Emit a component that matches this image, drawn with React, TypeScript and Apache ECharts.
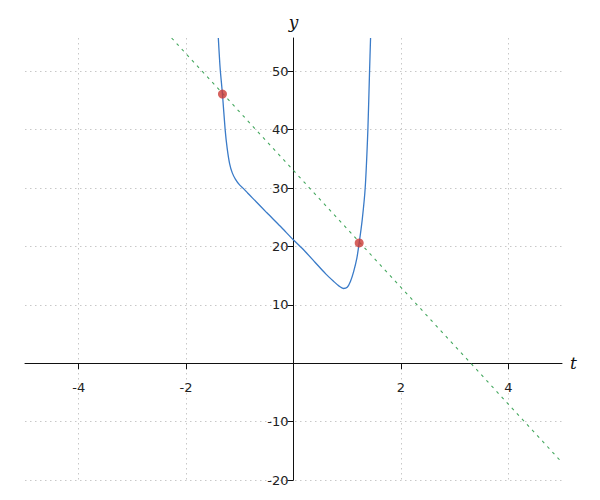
import React, { useEffect, useRef } from "react";
import * as echarts from "echarts";

// Curve samples (t, y)
const curveT = [-1.40, -1.366, -1.323, -1.273, -1.235, -1.19, -1.14, -1.08, -1.0, -0.93, -0.85, -0.7, -0.5, -0.25, 0, 0.2, 0.4, 0.6, 0.75, 0.85, 0.93, 1.0, 1.06, 1.12, 1.18, 1.223, 1.28, 1.335, 1.385, 1.416, 1.435];
const curveY = [55.7, 50.5, 46.1, 40.0, 36.8, 34.2, 32.6, 31.5, 30.5, 29.9, 29.1, 27.7, 25.8, 23.5, 21.1, 19.3, 17.3, 15.3, 14.0, 13.2, 12.8, 13.0, 14.0, 15.7, 18.0, 20.6, 24.6, 30.0, 40.0, 49.9, 55.7];

// Dashed line endpoints
const lineT = [-2.27, 5];
const lineY = [55.7, -17];

// Marked points
const pointT = [-1.323, 1.223];
const pointY = [46.1, 20.6];

// Axis ticks
const xTicks = [-4, -2, 2, 4];
const yTicks = [-20, -10, 10, 20, 30, 40, 50];

const X_MIN = -5, X_MAX = 5, Y_MIN = -20, Y_MAX = 55.7;

export default function App() {
  const ref = useRef<HTMLDivElement>(null);
  useEffect(() => {
    const chart = echarts.init(ref.current!, null, { renderer: "svg" });
    const W = 600, H = 500;
    const gl = 25, gr = 38, gt = 38, gb = 20;
    const pw = W - gl - gr, ph = H - gt - gb;
    const x0 = gl + ((0 - X_MIN) / (X_MAX - X_MIN)) * pw;
    const y0 = H - gb - ((0 - Y_MIN) / (Y_MAX - Y_MIN)) * ph;
    const labelStyle = { fontFamily: "DejaVu Sans", fontSize: 13, color: "#222" };
    const nameStyle = { fontFamily: "DejaVu Serif", fontStyle: "italic" as const, fontSize: 17, color: "#111" };
    const split = { show: true, lineStyle: { color: "#c8c8c8", type: [1.5, 3.5] as any, width: 1 } };
    chart.setOption({
      animation: false,
      backgroundColor: "#fff",
      grid: { left: gl, right: gr, top: gt, bottom: gb, containLabel: false, outerBoundsMode: "none" },
      xAxis: {
        type: "value",
        min: X_MIN,
        max: X_MAX,
        position: "bottom",
        offset: -(H - gb - y0),
        name: "t",
        nameLocation: "end",
        nameGap: 8,
        nameTextStyle: nameStyle,
        axisLine: { onZero: false, lineStyle: { color: "#111", width: 1 } },
        axisTick: { show: true, length: 6, customValues: [-4, -2, 0, 2, 4], lineStyle: { color: "#111" } },
        axisLabel: { customValues: xTicks, margin: 18, ...labelStyle },
        splitLine: split,
      },
      yAxis: {
        type: "value",
        min: Y_MIN,
        max: Y_MAX,
        position: "left",
        offset: -(x0 - gl),
        name: "y",
        nameLocation: "end",
        nameGap: 8,
        nameTextStyle: nameStyle,
        axisLine: { onZero: false, lineStyle: { color: "#111", width: 1 } },
        axisTick: { show: true, length: 6, customValues: yTicks, lineStyle: { color: "#111" } },
        axisLabel: { customValues: yTicks, margin: 5, ...labelStyle },
        splitLine: split,
      },
      series: [
        {
          type: "line",
          data: lineT.map((t, i) => [t, lineY[i]]),
          showSymbol: false,
          lineStyle: { color: "#45a85f", width: 1.1, type: [3, 4.5] },
          silent: true,
          z: 2,
        },
        {
          type: "line",
          data: curveT.map((t, i) => [t, curveY[i]]),
          showSymbol: false,
          smooth: 0.25,
          lineStyle: { color: "#3a7bc8", width: 1.3 },
          silent: true,
          z: 3,
        },
        {
          type: "scatter",
          data: pointT.map((t, i) => [t, pointY[i]]),
          symbolSize: 9,
          itemStyle: { color: "#cc3b36" },
          z: 4,
        },
      ],
    });
    return () => chart.dispose();
  }, []);
  return <div ref={ref} style={{ width: 600, height: 500, margin: -8 }} />;
}
